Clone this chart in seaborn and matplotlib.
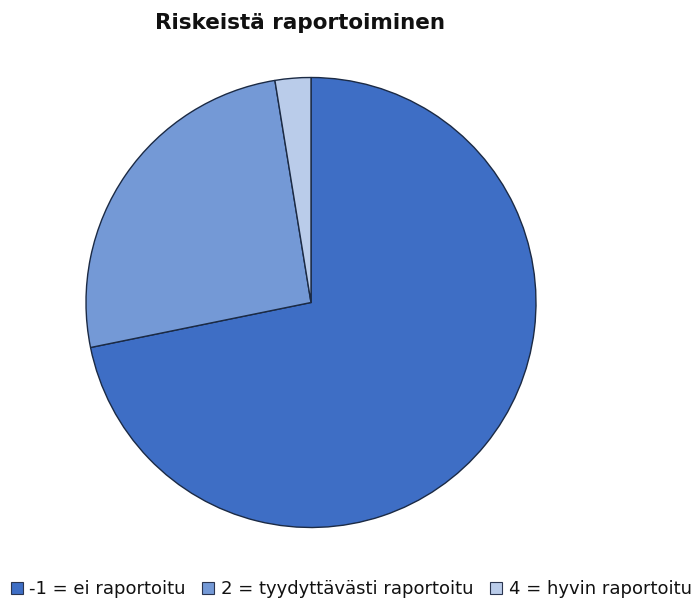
import matplotlib
matplotlib.use("Agg")
import matplotlib.pyplot as plt
from matplotlib.lines import Line2D
import seaborn as sns

categories = ["-1 = ei raportoitu", "2 = tyydyttävästi raportoitu", "4 = hyvin raportoitu"]
counts = [28, 10, 1]
colors = ["#3E6EC5", "#7499D6", "#BACCEA"]
title = "Riskeistä raportoiminen"

sns.set_theme(style="white")
plt.rcParams["font.family"] = ["DejaVu Sans"]

W, H = 695, 599
fig = plt.figure(figsize=(W / 100, H / 100), dpi=100)
cx, cy, r = 311, 302.5, 225
ax = fig.add_axes([(cx - r) / W, 1 - (cy + r) / H, 2 * r / W, 2 * r / H])
ax.pie(counts, colors=colors, startangle=90, counterclock=False, radius=1,
       wedgeprops=dict(edgecolor="#1B2A44", linewidth=1.0))
ax.set_xlim(-1, 1)
ax.set_ylim(-1, 1)
ax.set_aspect("equal")
ax.axis("off")

fig.text(300 / W, 1 - 23 / H, title, ha="center", va="center",
         fontsize=15.5, fontweight="bold", color="#111111")

handles = [Line2D([0], [0], marker="s", linestyle="none", markersize=8,
                  markerfacecolor=c, markeredgecolor="#2A3550", markeredgewidth=0.8)
           for c in colors]
leg = fig.legend(handles, categories, loc="center", bbox_to_anchor=(351 / W, 1 - 589 / H),
                 ncol=3, frameon=False, fontsize=13, handlelength=0.7, handletextpad=0.35,
                 columnspacing=0.9, borderaxespad=0, borderpad=0)
for t in leg.get_texts():
    t.set_color("#111111")

fig.savefig("out.png", dpi=100, facecolor="white")
